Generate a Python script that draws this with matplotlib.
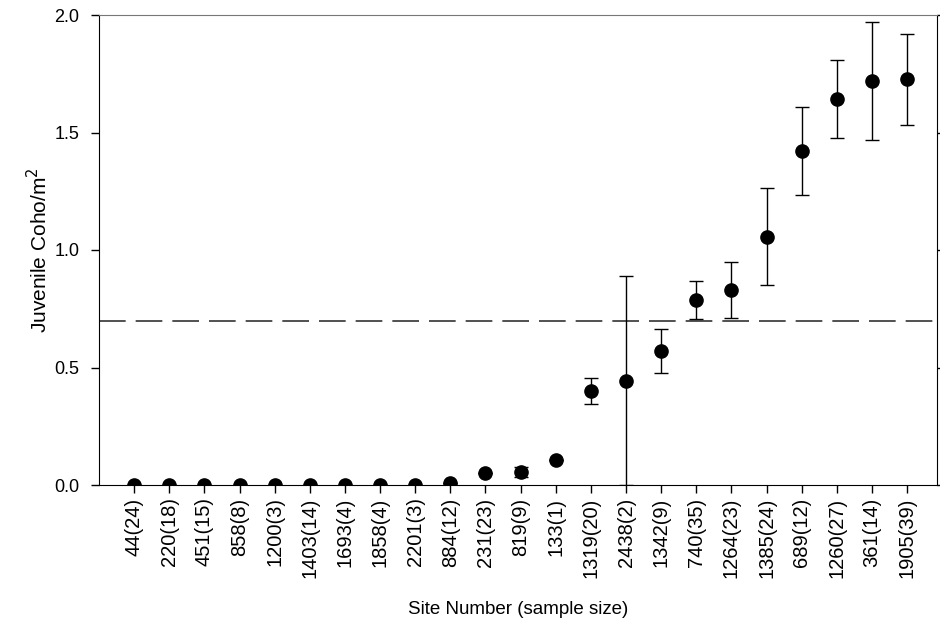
import matplotlib.pyplot as plt

plt.rcParams['font.family'] = ['Liberation Sans', 'DejaVu Sans']

# Site labels (sample size)
sites = ["44(24)", "220(18)", "451(15)", "858(8)", "1200(3)", "1403(14)",
         "1693(4)", "1858(4)", "2201(3)", "884(12)", "231(23)", "819(9)",
         "133(1)", "1319(20)", "2438(2)", "1342(9)", "740(35)", "1264(23)",
         "1385(24)", "689(12)", "1260(27)", "361(14)", "1905(39)"]

# Mean juvenile coho density
coho = [0.0, 0.0, 0.0, 0.0, 0.0, 0.0, 0.0, 0.0, 0.0, 0.008, 0.05, 0.054,
        0.106, 0.40, 0.443, 0.570, 0.786, 0.831, 1.057, 1.42, 1.644, 1.72, 1.726]

# Error bar half widths
errors = [0.0, 0.0, 0.0, 0.0, 0.0, 0.0, 0.0, 0.0, 0.0, 0.0, 0.0, 0.022,
          0.0, 0.056, 0.445, 0.094, 0.08, 0.12, 0.205, 0.187, 0.166, 0.25, 0.194]

threshold = 0.7

fig = plt.figure(figsize=(9.4, 6.28), dpi=100)
ax = fig.add_axes([99 / 940, 1 - 485 / 628, 838 / 940, 470 / 628])

x = list(range(len(sites)))
ax.errorbar(x, coho, yerr=errors, fmt='o', color='black', markersize=9.5,
            ecolor='black', elinewidth=1, capsize=5, capthick=1, zorder=3)

# Reference line
ax.axhline(threshold, color='#333333', linewidth=1.2, dashes=(16, 6), zorder=2)

ax.set_xlim(-1, 22.85)
ax.set_ylim(0, 2.0)
ax.set_yticks([0.0, 0.5, 1.0, 1.5, 2.0])
ax.set_yticklabels(["0.0", "0.5", "1.0", "1.5", "2.0"])
ax.set_xticks(x)
ax.set_xticklabels(sites, rotation=90)

ax.tick_params(axis='both', direction='out', length=6, width=1)
ax.tick_params(axis='y', right=True, labelsize=13, pad=8)
ax.tick_params(axis='x', labelsize=14.5, pad=3)
ax.spines['top'].set_color('#777777')

ax.set_xlabel("Site Number (sample size)", fontsize=13.5, labelpad=17)
ax.set_ylabel("Juvenile Coho/m$^2$", fontsize=15, labelpad=2)

fig.savefig("out.png", dpi=100)
